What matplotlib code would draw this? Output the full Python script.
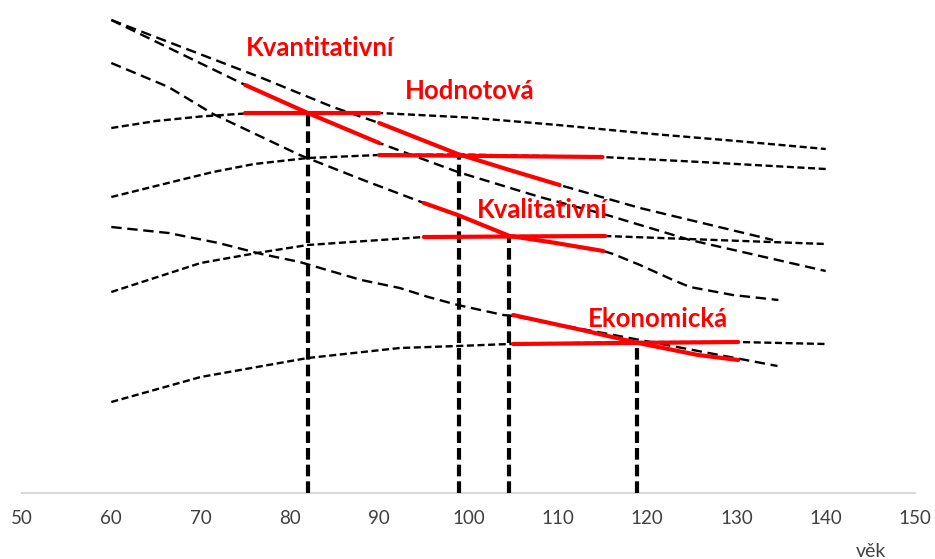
import matplotlib
matplotlib.use("Agg")
import matplotlib.pyplot as plt

plt.rcParams['font.family'] = ['Lato', 'DejaVu Sans']

# vek (x) a relativni uroven (y, bez stupnice)
ticks = [50, 60, 70, 80, 90, 100, 110, 120, 130, 140, 150]

# rostouci / ploche krivky (kratke carky)
c1_x = [60, 65, 70, 75, 82, 90, 100, 110, 120, 130, 140]
c1_y = [365, 372, 376.5, 379.5, 380.5, 380, 375.5, 368, 359.5, 352, 344]
c2_x = [60, 67.7, 71.4, 76, 82, 90, 99, 115, 126, 140]
c2_y = [296, 313, 321, 329, 335, 338, 338.5, 336, 331, 324]
c3_x = [60, 70, 76.3, 82, 95, 104.6, 115.3, 140]
c3_y = [201, 230, 240, 248, 256, 257, 257, 249]
c4_x = [60, 70, 82, 92.3, 98.8, 104.6, 119, 130.2, 140]
c4_y = [91, 116, 135, 145, 147, 149, 151, 151, 149]

# klesajici krivky (delsi carky)
d1_x = [60, 75, 82, 90, 98.8, 108, 115.5, 124.8, 140]
d1_y = [473, 408, 380, 350, 321, 296, 278, 253, 222]
d2_x = [60, 69.9, 76.6, 84.8, 90, 98.8, 104.6, 110.2, 119.2, 134.1]
d2_y = [473, 439, 416, 386, 370, 339, 323, 308, 285, 253]
d3_x = [60, 66.4, 71.4, 81.1, 88.2, 95, 98.8, 104.6, 109.1, 115.1, 116.2, 119.2, 122.9, 124.8, 129.6, 134.7]
d3_y = [430, 406, 379, 338, 313, 290, 278, 257, 251, 242, 239, 228, 213, 206, 198, 193]
d4_x = [60, 66.4, 72, 76.8, 81.1, 88, 92.3, 95.5, 98.8, 103.9, 105, 134.6]
d4_y = [266, 260, 250, 239, 231, 213, 205, 196, 188, 178, 177, 127]

# cervene useky (nazvy zivotnosti)
names = ['Kvantitativní', 'Hodnotová', 'Kvalitativní', 'Ekonomická']
red_dec_x = [[75, 82, 90], [90, 98.8, 104.6, 110.2],
             [95, 98.8, 104.6, 109.1, 115.1], [105, 112.7, 119, 125.7, 130.2]]
red_dec_y = [[408, 380, 350], [370, 339, 323, 308],
             [290, 278, 257, 251, 242], [178, 163, 150, 138, 133]]
red_hor_x = [[75, 90], [90, 115], [95, 115.3], [105, 130.2]]
red_hor_y = [[380, 380], [338, 336], [256, 257], [149, 151]]

# optimalni vek (svisle cary)
opt_x = [82, 98.9, 104.5, 118.9]
opt_y = [380, 339, 257, 151]

fig = plt.figure(figsize=(9.35, 5.59), dpi=100)
ax = fig.add_axes([22 / 935, 66 / 559, 893 / 935, 493 / 559])

short = dict(color='black', lw=1.7, dashes=(3.0, 1.5))
long_ = dict(color='black', lw=1.7, dashes=(4.4, 2.4))
for xs, ys in [(c1_x, c1_y), (c2_x, c2_y), (c3_x, c3_y), (c4_x, c4_y)]:
    ax.plot(xs, ys, **short)
for xs, ys in [(d1_x, d1_y), (d2_x, d2_y), (d3_x, d3_y), (d4_x, d4_y)]:
    ax.plot(xs, ys, **long_)

for xv, yv in zip(opt_x, opt_y):
    ax.plot([xv, xv], [0, yv], color='black', lw=3, dashes=(2.8, 1.2), zorder=3)

for i in range(len(names)):
    ax.plot(red_dec_x[i], red_dec_y[i], color='#ff0000', lw=3, solid_capstyle='round', zorder=4)
    ax.plot(red_hor_x[i], red_hor_y[i], color='#ff0000', lw=3, solid_capstyle='round', zorder=4)

label_pos = [(83.4, 437), (100.1, 394), (108.3, 275), (121.2, 166)]
for name, (lx, ly) in zip(names, label_pos):
    ax.text(lx, ly, name, color='#ff0000', fontsize=18.5, fontweight='bold',
            ha='center', va='baseline', zorder=5)

ax.set_xlim(50, 150)
ax.set_ylim(0, 493)
ax.set_xticks(ticks)
ax.set_xticklabels([str(t) for t in ticks])
ax.set_yticks([])
ax.tick_params(axis='x', length=0, pad=12, labelsize=13.5, labelcolor='#404040')
for s in ['top', 'left', 'right']:
    ax.spines[s].set_visible(False)
ax.spines['bottom'].set_color('#d9d9d9')
ax.spines['bottom'].set_linewidth(1.5)
ax.patch.set_alpha(0)

fig.text(871 / 935, 2 / 559, 'věk', fontsize=14, color='#404040', ha='center', va='baseline')

fig.savefig('out.png', dpi=100)
